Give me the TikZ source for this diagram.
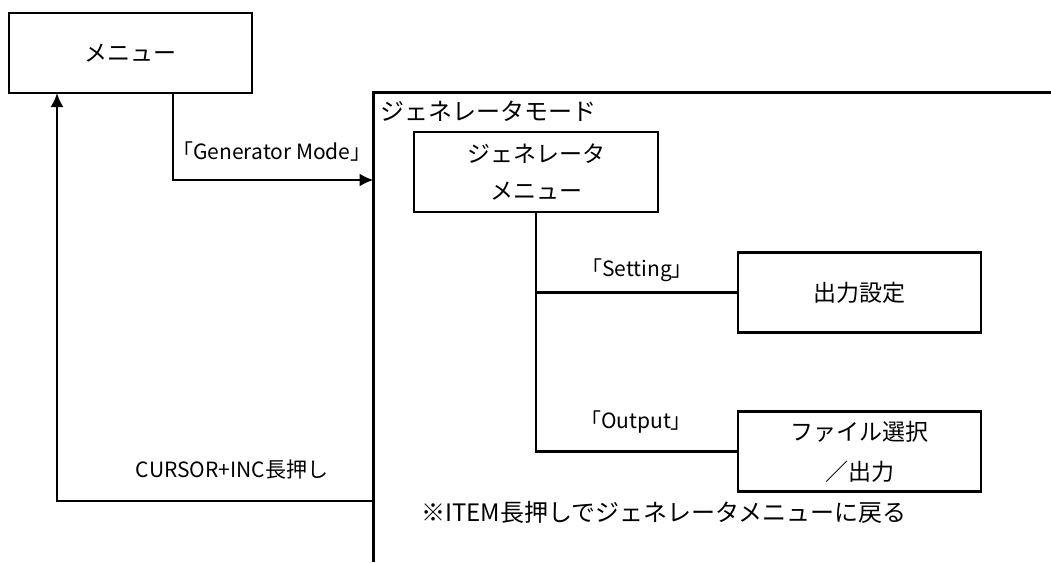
\documentclass[tikz,border=0pt]{standalone}
\usepackage{fontspec}
\setmainfont{Noto Sans CJK JP}
\usepackage{tikz}
\usetikzlibrary{calc,positioning,arrows.meta}
\tikzstyle{flow}=[
  >={Latex[length=14pt,width=13pt]}, x=1pt, y=-1pt, line width=2.2pt,
  font=\fontsize{23}{37}\selectfont
]
\tikzstyle{box}=[
  draw, rectangle, line width=2.2pt, align=center, inner sep=0pt,
  minimum width=243pt, minimum height=80pt
]
\tikzstyle{lbl}=[
  inner sep=0pt, font=\fontsize{21}{24}\selectfont
]
\tikzstyle{big}=[
  inner sep=0pt, font=\fontsize{24}{28}\selectfont
]

\begin{document}
\begin{tikzpicture}[flow]
    \useasboundingbox (0,0) rectangle (1051,562);
    % boxes
    \node (menu) at (130.5,53) [box] {メニュー};
    \node (genmenu) at (536,172) [box, minimum width=244pt] {ジェネレータ\\メニュー};
    \node (setting) at (859.5,292.5) [box] {出力設定};
    \node (output) at (859.5,451.5) [box, font=\fontsize{23}{40}\selectfont] {ファイル選択\\／出力};
    % mode frame
    \coordinate (frameB) at (373.5,562);
    \coordinate (frameTL) at (373.5,92.5);
    \coordinate (frameR) at (1051,92.5);
    \draw (frameB) -- (frameTL) -- (frameR);
    \node (modename) [big, anchor=west] at ($(frameTL)+(6,19)$) {ジェネレータモード};
    % enter / leave
    \coordinate (menuOut) at (173,93);
    \coordinate (modeIn) at (373.5,180);
    \coordinate (modeOut) at (373.5,501);
    \coordinate (menuIn) at (57,93);
    \draw [->] (menuOut) |- (modeIn);
    \draw [->] (modeOut) -| (menuIn);
    \node (genlbl) at (272,152) [lbl] {「Generator Mode」};
    \node (retlbl) at (232,470) [lbl] {CURSOR+INC長押し};
    % branches
    \draw (genmenu.south) |- (setting.west);
    \draw (genmenu.south) |- (output.west);
    \node (setlbl) at (637,270) [lbl] {「Setting」};
    \node (outlbl) at (636,422) [lbl] {「Output」};
    \node (note) [big, anchor=west] at (420,512) {※ITEM長押しでジェネレータメニューに戻る};
\end{tikzpicture}
\end{document}
